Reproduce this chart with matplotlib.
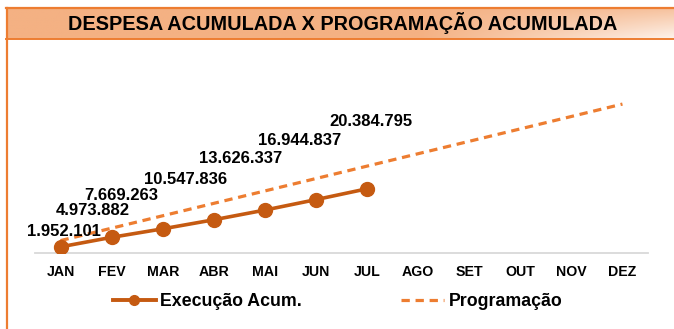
import numpy as np
import matplotlib
matplotlib.use("Agg")
import matplotlib.pyplot as plt
from matplotlib.lines import Line2D
from matplotlib.colors import to_rgb

plt.rcParams['font.family'] = ['Liberation Sans', 'DejaVu Sans']

# ---- data ----
months = ["JAN", "FEV", "MAR", "ABR", "MAI", "JUN", "JUL", "AGO", "SET", "OUT", "NOV", "DEZ"]
execucao = [1952101, 4973882, 7669263, 10547836, 13626337, 16944837, 20384795]
programacao = [3940000, 7880000, 11820000, 15760000, 19700000, 23640000,
               27580000, 31520000, 35460000, 39400000, 43340000, 47280000]
title = "DESPESA ACUMULADA X PROGRAMAÇÃO ACUMULADA"
series_names = ["Execução Acum.", "Programação"]

# label offsets (pixels) relative to each Execução point
label_dx = [3, -19, -41, -28, -24, -16, 4]
label_dy = [15, 27, 33, 40, 52, 59, 67]

W, H = 674, 329
fig = plt.figure(figsize=(W / 100, H / 100), dpi=100)
fig.patch.set_facecolor("white")

orange = "#ED7D31"
dark_orange = "#C55A11"

# ---- title band with gradient fill ----
tb_left, tb_top, tb_bottom = 6, 8, 39
ax_t = fig.add_axes([tb_left / W, 1 - tb_bottom / H, (W - tb_left) / W, (tb_bottom - tb_top) / H])
nx, ny = 300, 40
xx = np.linspace(0, 1, nx)[None, :]
yy = np.linspace(0, 1, ny)[:, None]
t = np.clip((xx - 0.62) / 0.38, 0, 1) * (0.25 + 0.75 * yy)
peach = np.array(to_rgb("#F4B183"))
img = peach[None, None, :] * (1 - t[..., None] * 0.85) + np.ones(3)[None, None, :] * (t[..., None] * 0.85)
ax_t.imshow(img, aspect="auto", extent=(0, 1, 0, 1), origin="upper")
ax_t.set_xlim(0, 1)
ax_t.set_ylim(0, 1)
ax_t.axis("off")
fig.text(342.5 / W, 1 - 23.5 / H, title, ha="center", va="center",
         fontsize=14.3, fontweight="bold", color="black")

# frame lines
fig.add_artist(Line2D([tb_left / W, 1], [1 - tb_top / H] * 2, color=orange, lw=1.6))
fig.add_artist(Line2D([tb_left / W, 1], [1 - tb_bottom / H] * 2, color=orange, lw=1.4))
fig.add_artist(Line2D([6.5 / W] * 2, [0, 1 - tb_top / H], color=orange, lw=1.6))

# ---- plot area ----
ax_left, ax_right, ax_bottom_px, ax_top_px = 35, 648, 253, 64
ax = fig.add_axes([ax_left / W, 1 - ax_bottom_px / H, (ax_right - ax_left) / W,
                   (ax_bottom_px - ax_top_px) / H])
ax.set_facecolor("none")

x_all = np.arange(len(months))
x_exec = np.arange(len(execucao))

ax.plot(x_all, programacao, color=orange, lw=2.3, linestyle=(0, (2.6, 1.8)),
        solid_capstyle="butt", label=series_names[1], zorder=2)
ax.plot(x_exec, execucao, color=dark_orange, lw=2.6, marker="o", markersize=10,
        label=series_names[0], zorder=3)

for i, v in enumerate(execucao):
    txt = f"{v:,}".replace(",", ".")
    ax.annotate(txt, xy=(i, v), xytext=(label_dx[i], label_dy[i]), textcoords="offset pixels",
                ha="center", va="center", fontsize=12, fontweight="bold", color="black",
                zorder=4)

ax.set_xlim(-0.5, len(months) - 0.5)
ax.set_ylim(0, 60e6)
ax.set_xticks(x_all)
ax.set_xticklabels(months, fontsize=10.2, fontweight="bold")
ax.tick_params(axis="x", length=0, pad=8.5)
ax.set_yticks([])
for s in ["top", "left", "right"]:
    ax.spines[s].set_visible(False)
ax.spines["bottom"].set_color("#D9D9D9")
ax.spines["bottom"].set_linewidth(1.3)

# ---- legend ----
handles = [
    Line2D([], [], color=dark_orange, lw=2.8, marker="o", markersize=7),
    Line2D([], [], color=orange, lw=2.3, linestyle=(0, (2.6, 1.8))),
]
fig.legend(handles, series_names, loc="center left",
           bbox_to_anchor=(113 / W, 1 - 302 / H), bbox_transform=fig.transFigure,
           ncol=2, frameon=False, borderpad=0, borderaxespad=0,
           handlelength=2.4, handletextpad=0.25, columnspacing=5.6,
           prop={"size": 12.8, "weight": "bold"})

fig.savefig("out.png", dpi=100)
